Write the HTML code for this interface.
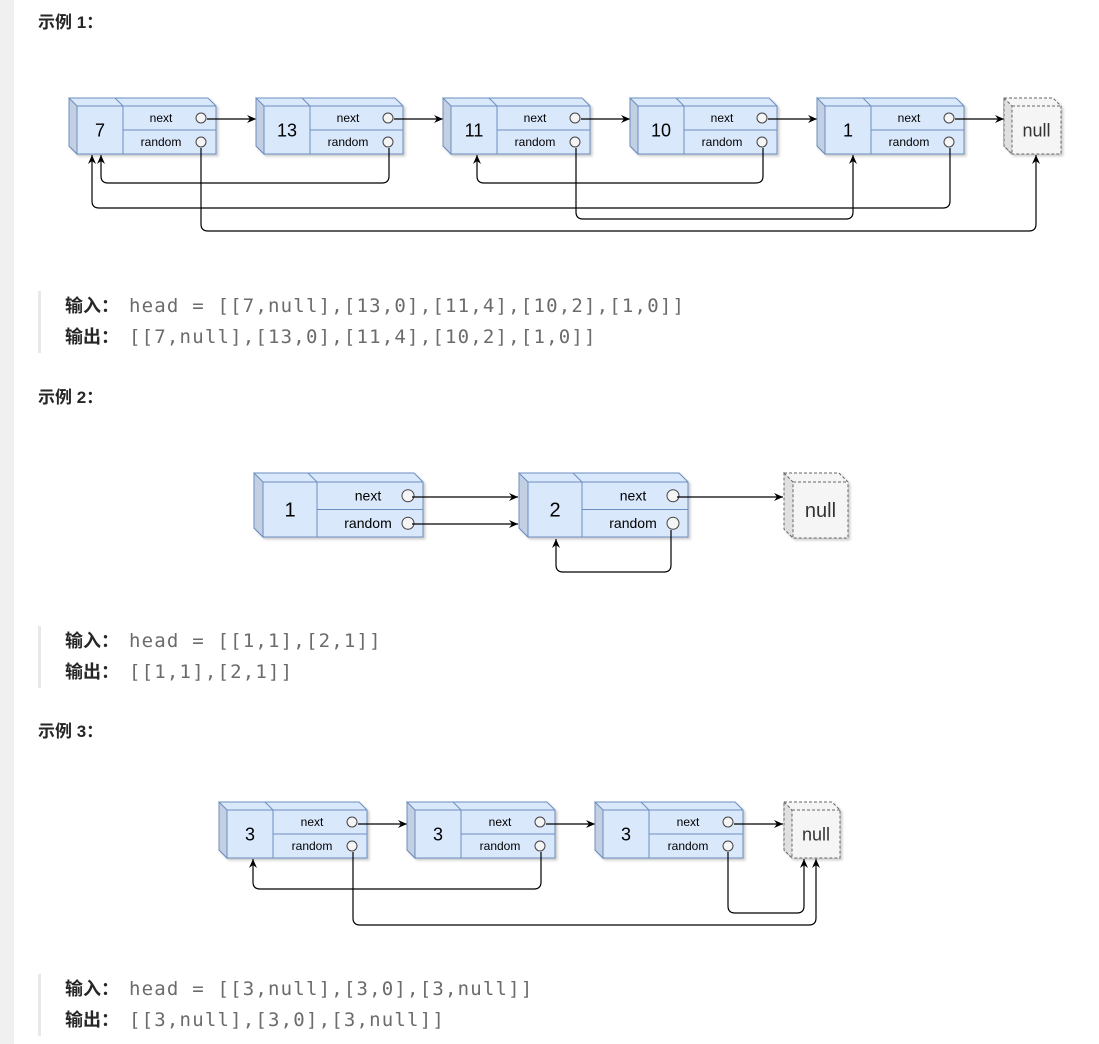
<!DOCTYPE html>
<html><head><meta charset="utf-8">
<style>
body{margin:0;width:1099px;height:1044px;background:#fff;position:relative;overflow:hidden;font-family:"Liberation Sans","Noto Sans CJK SC",sans-serif;}
.strip{position:absolute;left:0;top:0;width:14px;height:1044px;background:#f0f0f0;}
.h{position:absolute;left:38px;font-size:17px;font-weight:bold;color:#262626;}
.q{position:absolute;left:38px;border-left:3px solid #e8e8e8;padding-left:24px;font-size:18px;line-height:31px;color:#262626;white-space:nowrap;}
.q b{font-weight:bold;}
.q span{font-family:"DejaVu Sans Mono","Liberation Mono",monospace;color:#6b6b6b;font-size:19px;letter-spacing:1.2px;margin-left:10px;}
svg{position:absolute;left:0;top:0;}
</style></head><body>
<div class="strip"></div>
<div class="h" style="top:8px">示例 1：</div>
<div class="q" style="top:291px"><b>输入：</b><span>head = [[7,null],[13,0],[11,4],[10,2],[1,0]]</span><br><b>输出：</b><span>[[7,null],[13,0],[11,4],[10,2],[1,0]]</span></div>
<div class="h" style="top:383px">示例 2：</div>
<div class="q" style="top:626px"><b>输入：</b><span>head = [[1,1],[2,1]]</span><br><b>输出：</b><span>[[1,1],[2,1]]</span></div>
<div class="h" style="top:717px">示例 3：</div>
<div class="q" style="top:974px"><b>输入：</b><span>head = [[3,null],[3,0],[3,null]]</span><br><b>输出：</b><span>[[3,null],[3,0],[3,null]]</span></div>
<svg id="s" width="1099" height="1044" xmlns="http://www.w3.org/2000/svg">
<defs><marker id="a" markerWidth="10" markerHeight="10" refX="9" refY="5" orient="auto" markerUnits="userSpaceOnUse"><path d="M0,1 L9,5 L0,9 L3,5 Z" fill="#000"/></marker>
<filter id="sh"><feDropShadow dx="2" dy="2" stdDeviation="1.2" flood-color="#000" flood-opacity="0.2"/></filter></defs>
</svg>
<script>
var s=document.getElementById('s'),o='';
function node(x,y,w,h,d,div,val,fs,ffs){
 var r=x+w,b=y+h,my=y+d+(h-d)/2;
 o+='<g filter="url(#sh)"><path d="M'+x+','+y+' L'+(r-d)+','+y+' L'+r+','+(y+d)+' L'+r+','+b+' L'+(x+d)+','+b+' L'+x+','+(b-d)+' Z" fill="#dae8fc" stroke="#6c8ebf" stroke-width="1"/></g>';
 o+='<path d="M'+x+','+y+' L'+(x+d)+','+(y+d)+' L'+(x+d)+','+b+' L'+x+','+(b-d)+' Z" fill="#c3cfe2" stroke="#6c8ebf"/>';
 o+='<path d="M'+(x+d)+','+(y+d)+' L'+r+','+(y+d)+' M'+div+','+(y+d)+' L'+div+','+b+' M'+(div-d)+','+y+' L'+div+','+(y+d)+' M'+div+','+my+' L'+r+','+my+'" stroke="#6c8ebf" fill="none"/>';
 o+='<text x="'+((x+d+div)/2)+'" y="'+((y+d+b)/2+fs*0.36)+'" font-size="'+fs+'" text-anchor="middle" font-family="Liberation Sans,sans-serif">'+val+'</text>';
 var cx=r-15,cr=h>60?6:5;
 o+='<text x="'+(cx-40)+'" y="'+((y+d+my)/2+ffs*0.35)+'" font-size="'+ffs+'" text-anchor="middle">next</text>';
 o+='<text x="'+(cx-40)+'" y="'+((my+b)/2+ffs*0.35)+'" font-size="'+ffs+'" text-anchor="middle">random</text>';
 o+='<circle cx="'+cx+'" cy="'+((y+d+my)/2)+'" r="'+cr+'" fill="#f5f5f5" stroke="#444"/>';
 o+='<circle cx="'+cx+'" cy="'+((my+b)/2)+'" r="'+cr+'" fill="#f5f5f5" stroke="#444"/>';
}
function nul(x,y,w,h,d,fs){
 var r=x+w,b=y+h;
 o+='<g filter="url(#sh)"><path d="M'+x+','+y+' L'+(r-d)+','+y+' L'+r+','+(y+d)+' L'+r+','+b+' L'+(x+d)+','+b+' L'+x+','+(b-d)+' Z" fill="#f5f5f5" stroke="#666" stroke-dasharray="3,2"/></g>';
 o+='<path d="M'+x+','+y+' L'+(x+d)+','+(y+d)+' L'+(x+d)+','+b+' L'+x+','+(b-d)+' Z" fill="#e0e0e0" stroke="#666" stroke-dasharray="3,2"/>';
 o+='<path d="M'+(x+d)+','+(y+d)+' L'+r+','+(y+d)+'" stroke="#666" stroke-dasharray="3,2"/>';
 o+='<text x="'+((x+d+r)/2)+'" y="'+((y+d+b)/2+fs*0.36)+'" font-size="'+fs+'" text-anchor="middle" fill="#333">null</text>';
}
function ln(x1,y1,x2,y2){o+='<path d="M'+x1+','+y1+' L'+x2+','+y2+'" stroke="#000" stroke-width="1.2" fill="none" marker-end="url(#a)"/>';}
function loop(x1,y1,yy,x2,y2){var r=7,sx=x2>x1?1:-1;
 o+='<path d="M'+x1+','+y1+' L'+x1+','+(yy-r)+' Q'+x1+','+yy+' '+(x1+sx*r)+','+yy+' L'+(x2-sx*r)+','+yy+' Q'+x2+','+yy+' '+x2+','+(yy-r)+' L'+x2+','+y2+'" stroke="#000" stroke-width="1.2" fill="none" marker-end="url(#a)"/>';}
var v1=['7','13','11','10','1'];
for(var i=0;i<5;i++){var x=69+187*i;node(x,98,147,56,8,x+54,v1[i],18,12);ln(x+138,119,x+187,119);}
nul(1004,98,57,56,8,18);
loop(389,148,183,101,155);
loop(763,148,183,477,155);
loop(950,148,208,92,155);
loop(576,148,219,853,155);
loop(201,148,231,1036,155);
node(254,473,169,64,9,317,'1',20,14);
node(519,473,169,64,9,582,'2',20,14);
nul(784,473,64,65,9,20);
ln(412,497,518,497);ln(412,524,518,524);ln(677,497,783,497);
loop(671,530,572,556,539);
var xs=[219,407,595];
for(var i=0;i<3;i++){node(xs[i],802,148,56,8,xs[i]+54,'3',18,12);ln(xs[i]+139,824,xs[i]+188,824);}
nul(784,802,56,56,8,18);
loop(541,852,889,253,859);
loop(728,852,913,804,859);
loop(353,852,925,816,859);
s.insertAdjacentHTML('beforeend',o);
</script>
</body></html>
